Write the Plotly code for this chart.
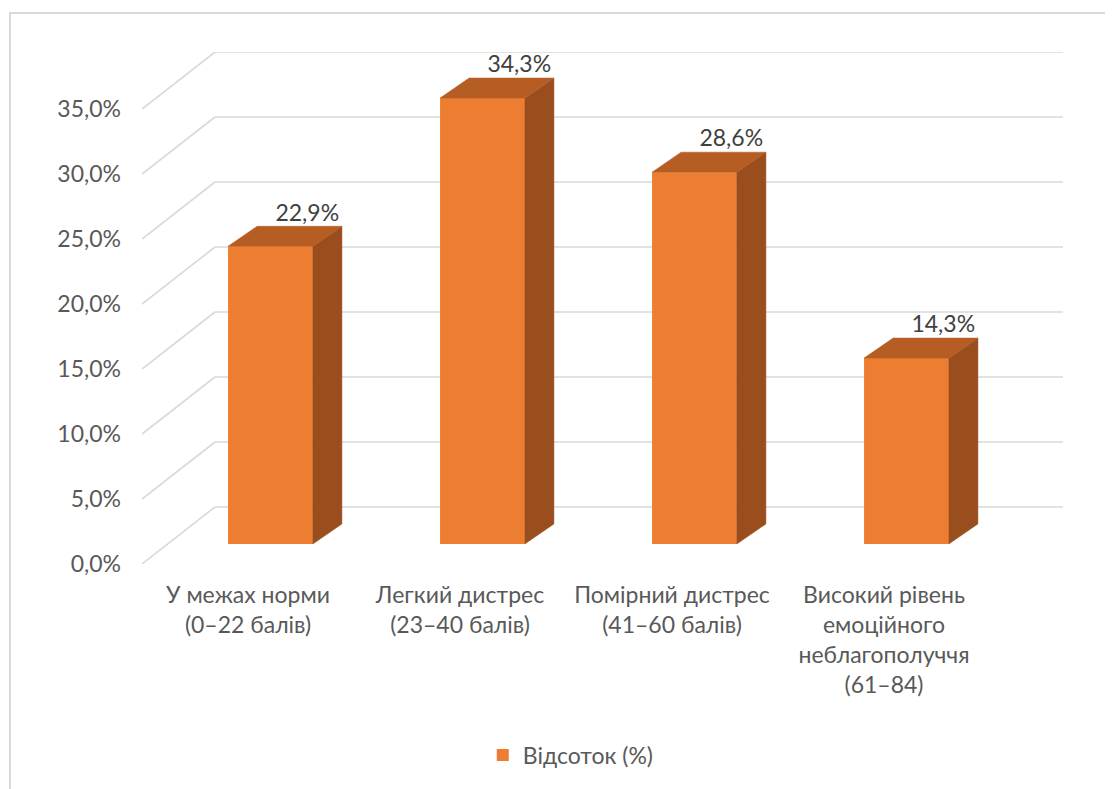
import plotly.graph_objects as go

# ---------------- data ----------------
categories = [
    "У межах норми<br>(0–22 балів)",
    "Легкий дистрес<br>(23–40 балів)",
    "Помірний дистрес<br>(41–60 балів)",
    "Високий рівень<br>емоційного<br>неблагополуччя<br>(61–84)",
]
values = [22.9, 34.3, 28.6, 14.3]
series_name = "Відсоток (%)"
y_ticks = [0, 5, 10, 15, 20, 25, 30, 35]
y_tick_labels = ["0,0%", "5,0%", "10,0%", "15,0%", "20,0%", "25,0%", "30,0%", "35,0%"]

# ---------------- style / 3D projection constants ----------------
FONT = "Lato"
TXT = "#595959"
LBL = "#404040"
GRID = "#D9D9D9"
C_FRONT = "#ED7D31"
C_TOP = "#B55D23"
C_SIDE = "#9A4E1E"

FLOOR_DX = 73 / 212      # depth offset of the floor in x units
FLOOR_DY = 57 / 13       # depth offset of the floor in y units
BAR_X0 = 0.106           # bar front-face shift (depth) in x
BAR_BASE = 1.54          # bar front-face shift (depth) in y
BAR_W = 0.40
SIDE_DX = 0.137
SIDE_DY = 1.54

W, H = 1105, 781
ML, MT, PW, PH = 134, 44, 921, 512

n = len(categories)
xs = list(range(n))
x_lo, x_hi = -0.5, n - 0.5 + FLOOR_DX
y_top = y_ticks[-1] + FLOOR_DY

fig = go.Figure()

# bar front faces
fig.add_trace(go.Bar(
    x=[i + BAR_X0 for i in xs], y=values, base=[BAR_BASE] * n, width=BAR_W,
    marker=dict(color=C_FRONT, line=dict(width=0)), name=series_name, showlegend=True,
    hoverinfo="skip"))

# bar side and top faces
for i, v in zip(xs, values):
    xl = i + BAR_X0 - BAR_W / 2
    xr = i + BAR_X0 + BAR_W / 2
    yb = BAR_BASE
    yt = BAR_BASE + v
    fig.add_trace(go.Scatter(
        x=[xr, xr, xr + SIDE_DX, xr + SIDE_DX, xr],
        y=[yb, yt, yt + SIDE_DY, yb + SIDE_DY, yb],
        mode="lines", fill="toself", fillcolor=C_SIDE, line=dict(color=C_SIDE, width=0.5),
        hoverinfo="skip", showlegend=False))
    fig.add_trace(go.Scatter(
        x=[xl, xr, xr + SIDE_DX, xl + SIDE_DX, xl],
        y=[yt, yt, yt + SIDE_DY, yt + SIDE_DY, yt],
        mode="lines", fill="toself", fillcolor=C_TOP, line=dict(color=C_TOP, width=0.5),
        hoverinfo="skip", showlegend=False))

# data labels
fig.add_trace(go.Scatter(
    x=[i + BAR_X0 + SIDE_DX / 2 + 0.105 for i in xs],
    y=[BAR_BASE + v + SIDE_DY for v in values],
    mode="text", text=[f"{v:.1f}".replace(".", ",") + "%" for v in values],
    textposition="top center", textfont=dict(family=FONT, size=23, color=LBL),
    hoverinfo="skip", showlegend=False, cliponaxis=False))

# perspective gridlines (left wall diagonal + back wall), behind the bars
shapes = []
for t in y_ticks:
    shapes.append(dict(type="line", xref="x", yref="y", x0=x_lo, y0=t,
                       x1=x_lo + FLOOR_DX, y1=t + FLOOR_DY,
                       line=dict(color=GRID, width=1.6), layer="below"))
    shapes.append(dict(type="line", xref="x", yref="y", x0=x_lo + FLOOR_DX, y0=t + FLOOR_DY,
                       x1=x_hi, y1=t + FLOOR_DY,
                       line=dict(color=GRID, width=1.6), layer="below"))
# chart-area border
shapes.append(dict(type="rect", xref="paper", yref="paper",
                   x0=(2 - ML) / PW, x1=1.2, y0=-0.6, y1=(MT + PH - 5) / PH,
                   line=dict(color=GRID, width=2), fillcolor="rgba(0,0,0,0)", layer="below"))

fig.update_layout(
    width=W, height=H, autosize=False,
    margin=dict(l=ML, r=W - ML - PW, t=MT, b=H - MT - PH),
    paper_bgcolor="white", plot_bgcolor="white",
    font=dict(family=FONT, size=23, color=TXT),
    showlegend=True,
    legend=dict(orientation="h", x=0.370, xanchor="left", y=-0.373, yanchor="middle",
                font=dict(family=FONT, size=23, color=TXT), bgcolor="rgba(0,0,0,0)"),
    xaxis=dict(range=[x_lo, x_hi], tickmode="array", tickvals=xs, ticktext=categories,
               showgrid=False, zeroline=False, showline=False, ticks="", ticklabelstandoff=15,
               tickfont=dict(family=FONT, size=23, color=TXT), fixedrange=True),
    yaxis=dict(range=[0, y_top], tickmode="array", tickvals=y_ticks, ticktext=y_tick_labels,
               showgrid=False, zeroline=False, showline=False, ticks="", ticklabelstandoff=20,
               tickfont=dict(family=FONT, size=23, color=TXT), fixedrange=True),
    shapes=shapes,
)

fig.write_html("out.html")
